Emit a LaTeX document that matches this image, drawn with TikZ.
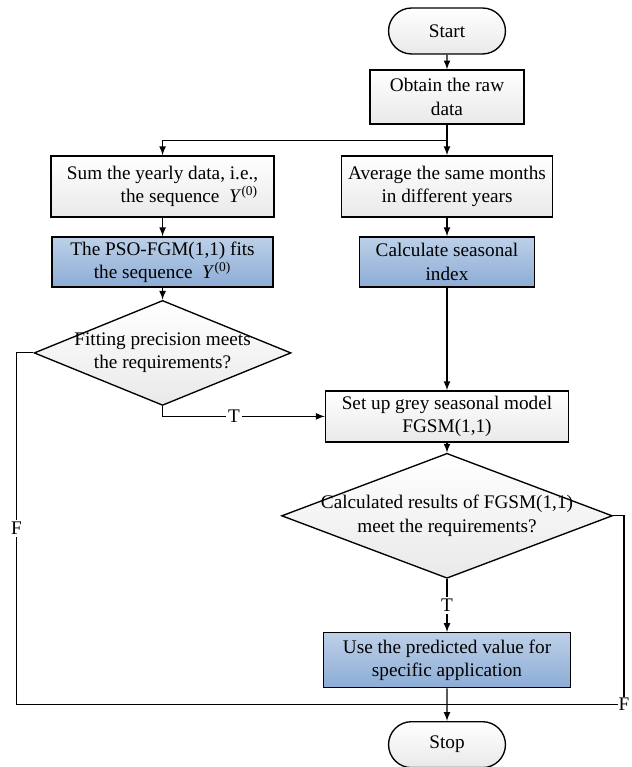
\documentclass[tikz,border=0pt]{standalone}
\usepackage{fontspec}
\setmainfont{Liberation Serif}
\usepackage{tikz}
\usetikzlibrary{calc,shapes.geometric,shapes.misc}
\definecolor{boxtop}{HTML}{FFFFFF}
\definecolor{boxbot}{HTML}{E9E9E9}
\definecolor{bluetop}{HTML}{BDD0E7}
\definecolor{bluebot}{HTML}{8CACD6}
\tikzset{node distance=3cm, >=latex}
\tikzset{
  process/.style={rectangle, draw, line width=0.7pt, top color=boxtop, bottom color=boxbot, align=center, inner sep=0pt},
  blueproc/.style={process, top color=bluetop, bottom color=bluebot},
  term/.style={rounded rectangle, draw, line width=0.7pt, top color=boxtop, bottom color=boxbot, minimum width=60.8pt, minimum height=23.9pt, inner sep=0pt},
  decision/.style={diamond, draw, line width=0.7pt, top color=boxtop, bottom color=boxbot, inner sep=0pt},
  lbl/.style={fill=white, inner sep=1pt},
  line/.style={line width=0.6pt}
}

\begin{document}
\begin{tikzpicture}[x=0.52pt, y=-0.52pt]
                \useasboundingbox (0,0) rectangle (632,767);
                \node[term] (start) at (447,31) {Start};
                \node[process, below of=start, node distance=34.3pt, minimum width=80pt, minimum height=28pt] (obtain) {Obtain the raw\\data};
                \node[process, below of=obtain, node distance=46.5pt, minimum width=110pt, minimum height=31.7pt] (avg) {Average the same months\\in different years};
                \node[process, left of=avg, node distance=147.9pt, minimum width=116pt, minimum height=31.7pt, align=right] (sum) {Sum the yearly data, i.e.,\\the sequence\ \ \textit{Y}\textsuperscript{(0)}};
                \node[blueproc, below of=avg, node distance=39.3pt, minimum width=91pt, minimum height=26pt] (calc) {Calculate seasonal\\index};
                \node[blueproc, below of=sum, node distance=39.3pt, minimum width=115pt, minimum height=26pt] (pso) {The PSO-FGM(1,1) fits\\the sequence\ \ \textit{Y}\textsuperscript{(0)}};
                \node[decision, below of=pso, node distance=47.3pt, minimum width=133.6pt, minimum height=54.6pt,
                      label={[align=center]center:{Fitting precision meets\\the requirements?}}] (fit) {};
                \node[process, below of=calc, node distance=80.3pt, minimum width=126.4pt, minimum height=26.5pt] (setup) {Set up grey seasonal model\\FGSM(1,1)};
                \node[decision, below of=setup, node distance=51.7pt, minimum width=172pt, minimum height=65pt,
                      label={[align=center]center:{Calculated results of FGSM(1,1)\\meet the requirements?}}] (res) {};
                \node[blueproc, below of=res, node distance=75.1pt, minimum width=128.4pt, minimum height=28.6pt] (use) {Use the predicted value for\\specific application};
                \node[term, below of=use, node distance=43.9pt] (stop) {Stop};

                % split and join points
                \coordinate (split) at ($(obtain.south)+(0,16)$);
                \coordinate (join) at ($(use.south)+(0,16)$);
                \coordinate (rjoin) at ($(join)+(177,0)$);

                \draw[line,->] (start) -- (obtain);
                \draw[line,->] (obtain) -- (avg);
                \draw[line,->] (split) -| (sum);
                \draw[line,->] (sum) -- (pso);
                \draw[line,->] (avg) -- (calc);
                \draw[line,->] (pso) -- (fit);
                \draw[line,->] (calc) -- (setup);
                \draw[line,->] (fit.south) |- node[lbl, pos=0.72] {T} (setup.west);
                \draw[line,->] (setup) -- (res);
                \draw[line,->] (res) -- node[lbl] {T} (use);
                \draw[line] (fit.west) -- ++(-17,0) |- node[lbl, pos=0.25] {F} (join);
                \draw[line] (res.east) -| (rjoin) -- (join);
                \node[lbl, inner sep=0.5pt] (f2) at (rjoin) {F};
                \draw[line,->] (use) -- (stop);
              \end{tikzpicture}
\end{document}
